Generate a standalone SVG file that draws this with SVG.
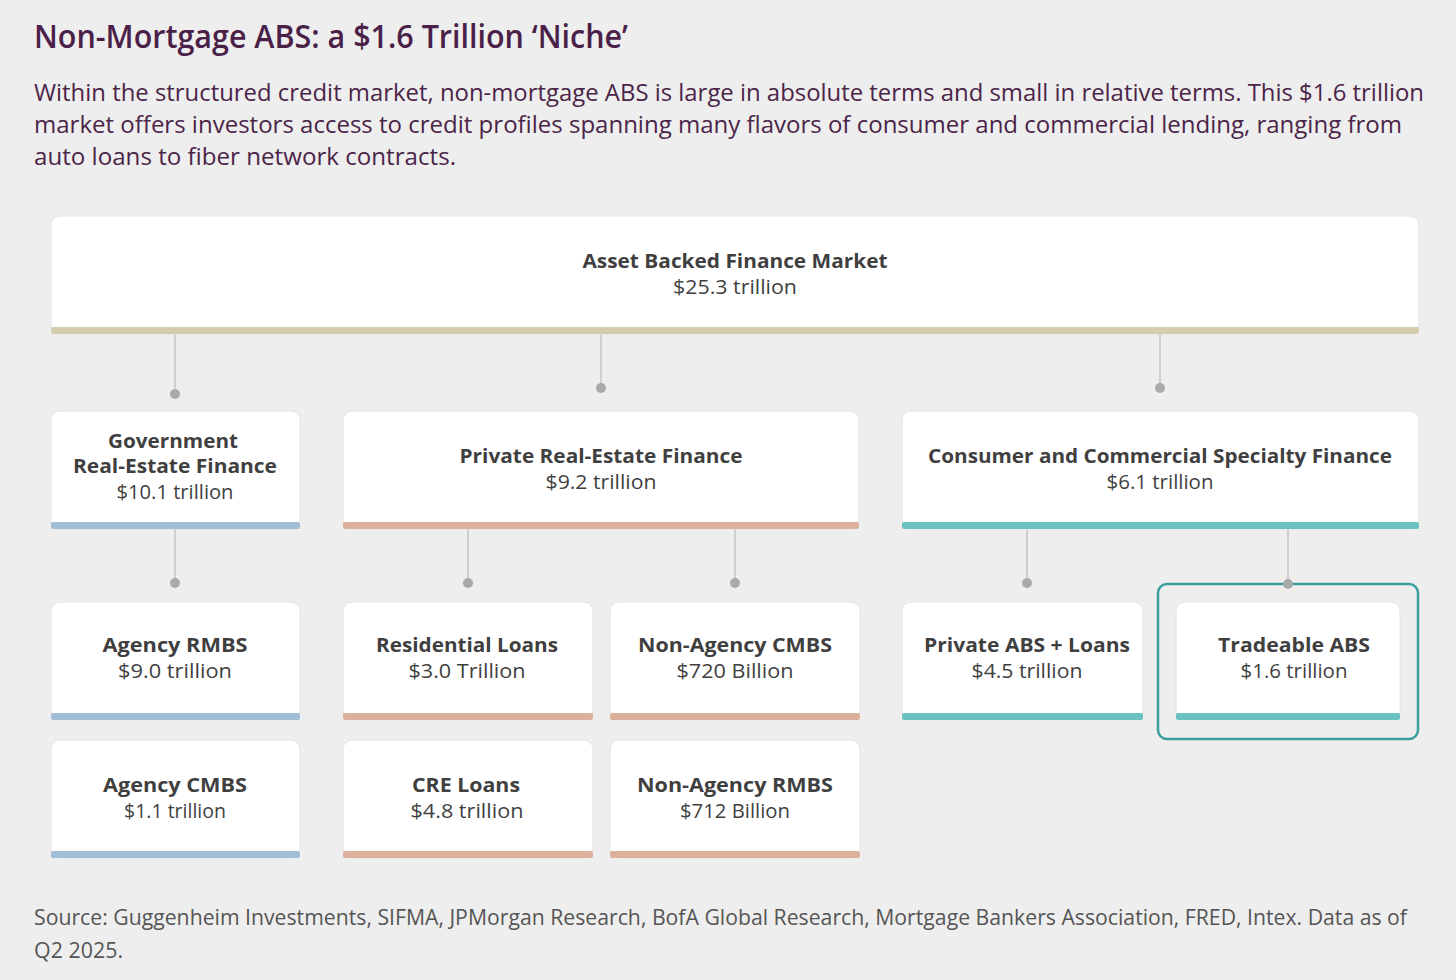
<svg xmlns="http://www.w3.org/2000/svg" width="1456" height="980" viewBox="0 0 1456 980">
<defs>
<style>
.bg{fill:#eeeeee}
.box{fill:#ffffff;stroke:#e4e4e4;stroke-width:1}
.t{font-family:"Open Sans","Noto Sans",sans-serif;text-anchor:middle;fill:#3f3f3f}
.n{font-size:20px;font-weight:700}
.v{font-size:20px;font-weight:400}
.line{stroke:#cfcfcf;stroke-width:2;fill:none}
.dot{fill:#a9a9a9}
.tan{fill:#d4ccb0}
.blue{fill:#a2bdd6}
.sal{fill:#dbb19b}
.teal{fill:#6cc2c0}
</style>
</defs>
<rect class="bg" x="0" y="0" width="1456" height="980"/>
<g id="header">
<text x="34" y="48" font-family="'Open Sans','Noto Sans',sans-serif" font-size="33" font-weight="600" fill="#4a1f48" textLength="594" lengthAdjust="spacingAndGlyphs">Non-Mortgage ABS: a $1.6 Trillion ‘Niche’</text>
<g font-family="'Open Sans','Noto Sans',sans-serif" font-size="24" fill="#4b2548">
<text x="34" y="101" textLength="1390" lengthAdjust="spacingAndGlyphs">Within the structured credit market, non-mortgage ABS is large in absolute terms and small in relative terms. This $1.6 trillion</text>
<text x="34" y="133" textLength="1368" lengthAdjust="spacingAndGlyphs">market offers investors access to credit profiles spanning many flavors of consumer and commercial lending, ranging from</text>
<text x="34" y="165" textLength="422" lengthAdjust="spacingAndGlyphs">auto loans to fiber network contracts.</text>
</g>
</g>
<g id="connectors">
<line class="line" x1="175" y1="334" x2="175" y2="394"/><circle class="dot" cx="175" cy="394" r="5"/>
<line class="line" x1="601" y1="334" x2="601" y2="388"/><circle class="dot" cx="601" cy="388" r="5"/>
<line class="line" x1="1160" y1="334" x2="1160" y2="388"/><circle class="dot" cx="1160" cy="388" r="5"/>
<line class="line" x1="175" y1="529" x2="175" y2="583"/><circle class="dot" cx="175" cy="583" r="5"/>
<line class="line" x1="468" y1="529" x2="468" y2="583"/><circle class="dot" cx="468" cy="583" r="5"/>
<line class="line" x1="735" y1="529" x2="735" y2="583"/><circle class="dot" cx="735" cy="583" r="5"/>
<line class="line" x1="1027" y1="529" x2="1027" y2="583"/><circle class="dot" cx="1027" cy="583" r="5"/>
<line class="line" x1="1288" y1="529" x2="1288" y2="583"/>
</g>
<g id="highlight">
<rect x="1158" y="584" width="260" height="155" rx="9" fill="none" stroke="#3a9f9e" stroke-width="2.5"/>
<circle class="dot" cx="1288" cy="584" r="5"/>
</g>
<g id="root">
<rect class="box" x="51" y="216" width="1368" height="118" rx="9"/>
<rect class="tan" x="51" y="327" width="1368" height="7" rx="2"/>
<text class="t n" x="735" y="268" textLength="305" lengthAdjust="spacingAndGlyphs">Asset Backed Finance Market</text>
<text class="t v" x="735" y="294" textLength="124" lengthAdjust="spacingAndGlyphs">$25.3 trillion</text>
</g>
<g id="gov">
<rect class="box" x="51" y="411" width="249" height="118" rx="9"/>
<rect class="blue" x="51" y="522" width="249" height="7" rx="2"/>
<text class="t n" x="173" y="448" textLength="130" lengthAdjust="spacingAndGlyphs">Government</text>
<text class="t n" x="175" y="473" textLength="204" lengthAdjust="spacingAndGlyphs">Real-Estate Finance</text>
<text class="t v" x="175" y="499" textLength="117" lengthAdjust="spacingAndGlyphs">$10.1 trillion</text>
</g>
<g id="private">
<rect class="box" x="343" y="411" width="516" height="118" rx="9"/>
<rect class="sal" x="343" y="522" width="516" height="7" rx="2"/>
<text class="t n" x="601" y="463" textLength="283" lengthAdjust="spacingAndGlyphs">Private Real-Estate Finance</text>
<text class="t v" x="601" y="489" textLength="111" lengthAdjust="spacingAndGlyphs">$9.2 trillion</text>
</g>
<g id="consumer">
<rect class="box" x="902" y="411" width="517" height="118" rx="9"/>
<rect class="teal" x="902" y="522" width="517" height="7" rx="2"/>
<text class="t n" x="1160" y="463" textLength="464" lengthAdjust="spacingAndGlyphs">Consumer and Commercial Specialty Finance</text>
<text class="t v" x="1160" y="489" textLength="107" lengthAdjust="spacingAndGlyphs">$6.1 trillion</text>
</g>
<g id="agency-rmbs">
<rect class="box" x="51" y="602" width="249" height="118" rx="9"/>
<rect class="blue" x="51" y="713" width="249" height="7" rx="2"/>
<text class="t n" x="175" y="652" textLength="145" lengthAdjust="spacingAndGlyphs">Agency RMBS</text>
<text class="t v" x="175" y="678" textLength="114" lengthAdjust="spacingAndGlyphs">$9.0 trillion</text>
</g>
<g id="residential">
<rect class="box" x="343" y="602" width="250" height="118" rx="9"/>
<rect class="sal" x="343" y="713" width="250" height="7" rx="2"/>
<text class="t n" x="467" y="652" textLength="182" lengthAdjust="spacingAndGlyphs">Residential Loans</text>
<text class="t v" x="467" y="678" textLength="117" lengthAdjust="spacingAndGlyphs">$3.0 Trillion</text>
</g>
<g id="nonagency-cmbs">
<rect class="box" x="610" y="602" width="250" height="118" rx="9"/>
<rect class="sal" x="610" y="713" width="250" height="7" rx="2"/>
<text class="t n" x="735" y="652" textLength="194" lengthAdjust="spacingAndGlyphs">Non-Agency CMBS</text>
<text class="t v" x="735" y="678" textLength="117" lengthAdjust="spacingAndGlyphs">$720 Billion</text>
</g>
<g id="private-abs">
<rect class="box" x="902" y="602" width="241" height="118" rx="9"/>
<rect class="teal" x="902" y="713" width="241" height="7" rx="2"/>
<text class="t n" x="1027" y="652" textLength="206" lengthAdjust="spacingAndGlyphs">Private ABS + Loans</text>
<text class="t v" x="1027" y="678" textLength="111" lengthAdjust="spacingAndGlyphs">$4.5 trillion</text>
</g>
<g id="tradeable-abs">
<rect class="box" x="1176" y="602" width="224" height="118" rx="9"/>
<rect class="teal" x="1176" y="713" width="224" height="7" rx="2"/>
<text class="t n" x="1294" y="652" textLength="152" lengthAdjust="spacingAndGlyphs">Tradeable ABS</text>
<text class="t v" x="1294" y="678" textLength="107" lengthAdjust="spacingAndGlyphs">$1.6 trillion</text>
</g>
<g id="agency-cmbs">
<rect class="box" x="51" y="740" width="249" height="118" rx="9"/>
<rect class="blue" x="51" y="851" width="249" height="7" rx="2"/>
<text class="t n" x="175" y="792" textLength="144" lengthAdjust="spacingAndGlyphs">Agency CMBS</text>
<text class="t v" x="175" y="818" textLength="102" lengthAdjust="spacingAndGlyphs">$1.1 trillion</text>
</g>
<g id="cre">
<rect class="box" x="343" y="740" width="250" height="118" rx="9"/>
<rect class="sal" x="343" y="851" width="250" height="7" rx="2"/>
<text class="t n" x="466" y="792" textLength="108" lengthAdjust="spacingAndGlyphs">CRE Loans</text>
<text class="t v" x="467" y="818" textLength="113" lengthAdjust="spacingAndGlyphs">$4.8 trillion</text>
</g>
<g id="nonagency-rmbs">
<rect class="box" x="610" y="740" width="250" height="118" rx="9"/>
<rect class="sal" x="610" y="851" width="250" height="7" rx="2"/>
<text class="t n" x="735" y="792" textLength="196" lengthAdjust="spacingAndGlyphs">Non-Agency RMBS</text>
<text class="t v" x="735" y="818" textLength="110" lengthAdjust="spacingAndGlyphs">$712 Billion</text>
</g>
<g id="source" font-family="'Open Sans','Noto Sans',sans-serif" font-size="21" fill="#555555">
<text x="34" y="925" textLength="1373" lengthAdjust="spacingAndGlyphs">Source: Guggenheim Investments, SIFMA, JPMorgan Research, BofA Global Research, Mortgage Bankers Association, FRED, Intex. Data as of</text>
<text x="34" y="958" textLength="89" lengthAdjust="spacingAndGlyphs">Q2 2025.</text>
</g>
</svg>
